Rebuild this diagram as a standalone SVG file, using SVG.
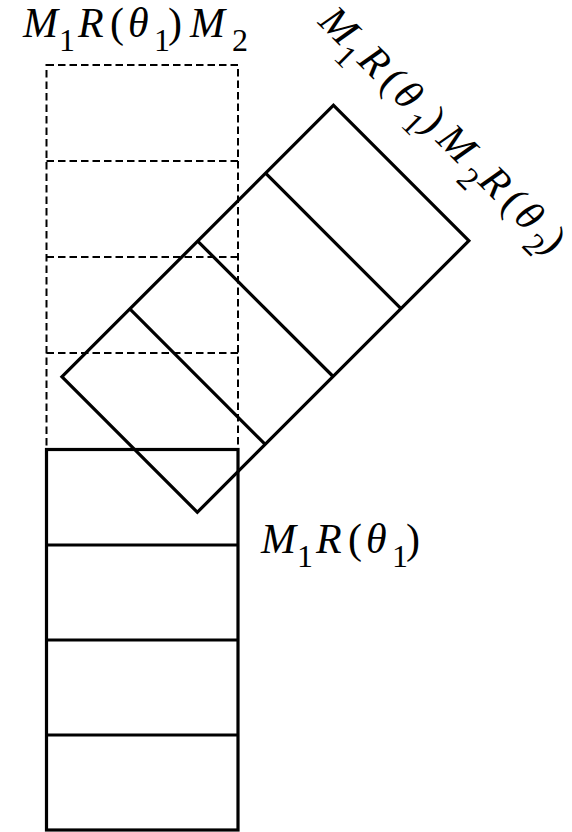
<svg xmlns="http://www.w3.org/2000/svg" width="572" height="832" viewBox="0 0 572 832">
<style>
.solid{fill:none;stroke:#000;stroke-width:3.2}
.dash{fill:none;stroke:#000;stroke-width:2;stroke-dasharray:7.5 4}
.i{font-style:italic}
.s{font-size:32px;font-style:normal}
</style>
<rect width="572" height="832" fill="#fff"/>
<g id="dashed-box">
<rect class="dash" x="46.5" y="65" width="191.5" height="384"/>
<line class="dash" x1="46.5" y1="161" x2="238" y2="161"/>
<line class="dash" x1="46.5" y1="257" x2="238" y2="257"/>
<line class="dash" x1="46.5" y1="353" x2="238" y2="353"/>
</g>
<g id="solid-box">
<rect class="solid" x="46.5" y="449.5" width="191.5" height="380.5"/>
<line class="solid" x1="46.5" y1="545" x2="238" y2="545"/>
<line class="solid" x1="46.5" y1="640" x2="238" y2="640"/>
<line class="solid" x1="46.5" y1="735" x2="238" y2="735"/>
</g>
<g id="rotated-box" transform="translate(265.4 308.8) rotate(45)">
<rect class="solid" x="-95.75" y="-192" width="191.5" height="384"/>
<line class="solid" x1="-95.75" y1="-96" x2="95.75" y2="-96"/>
<line class="solid" x1="-95.75" y1="0" x2="95.75" y2="0"/>
<line class="solid" x1="-95.75" y1="96" x2="95.75" y2="96"/>
</g>
<g id="label-top">
<text x="23" y="37" style="font-family:'Liberation Serif',serif;font-size:42px"><tspan class="i">M</tspan><tspan class="s" x="59" y="51">1</tspan><tspan class="i" x="78" y="37">R</tspan><tspan x="110">(</tspan><tspan class="i" x="128">θ</tspan><tspan class="s" x="154" y="51">1</tspan><tspan x="168" y="37">)</tspan><tspan class="i" x="190">M</tspan><tspan class="s" x="232" y="51">2</tspan></text>
</g>
<g id="label-right">
<text x="261" y="553" style="font-family:'Liberation Serif',serif;font-size:42px"><tspan class="i">M</tspan><tspan class="s" x="297" y="567">1</tspan><tspan class="i" x="316" y="553">R</tspan><tspan x="348">(</tspan><tspan class="i" x="366">θ</tspan><tspan class="s" x="392" y="567">1</tspan><tspan x="406" y="553">)</tspan></text>
</g>
<g id="label-rotated" transform="translate(317 23) rotate(45)">
<text x="0" y="0" style="font-family:'Liberation Serif',serif;font-size:42px"><tspan class="i">M</tspan><tspan class="s" x="36" y="14">1</tspan><tspan class="i" x="55" y="0">R</tspan><tspan x="87">(</tspan><tspan class="i" x="105">θ</tspan><tspan class="s" x="131" y="14">1</tspan><tspan x="145" y="0">)</tspan><tspan class="i" x="167">M</tspan><tspan class="s" x="209" y="14">2</tspan><tspan class="i" x="226" y="0">R</tspan><tspan x="258">(</tspan><tspan class="i" x="276">θ</tspan><tspan class="s" x="302" y="14">2</tspan><tspan x="315" y="0">)</tspan></text>
</g>
</svg>
